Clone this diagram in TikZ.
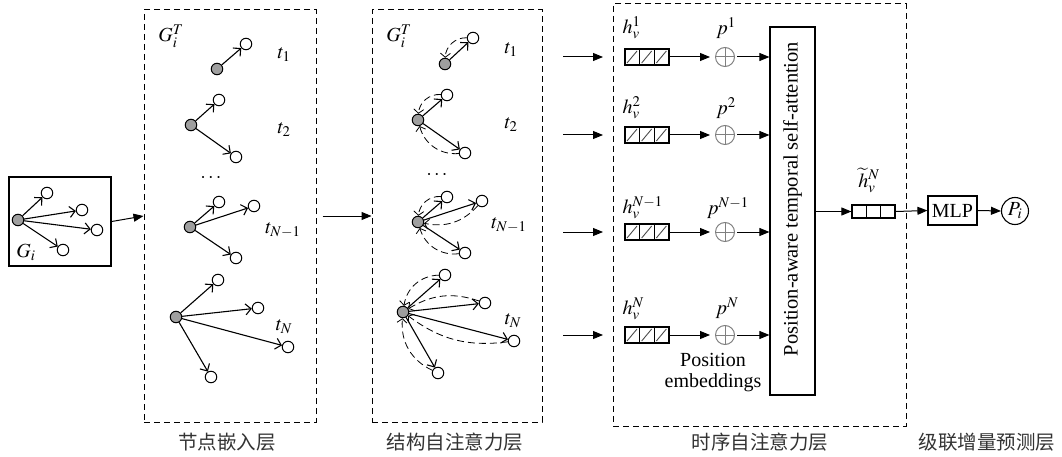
\documentclass[tikz,border=0pt]{standalone}
\usepackage{mathptmx}
\usepackage{fontspec}
\setmainfont{Liberation Serif}
\newfontfamily\cjk{Noto Sans CJK SC}
\usetikzlibrary{arrows.meta,calc}
\begin{document}
\begin{tikzpicture}[x=1pt,y=1pt,
  gn/.style={circle,draw,fill=gray!75,inner sep=0pt,minimum size=11.5pt,line width=1pt},
  wn/.style={circle,draw,fill=white,inner sep=0pt,minimum size=11.5pt,line width=1pt},
  ed/.style={-{Straight Barb[length=5.5pt,width=11pt]},line width=1.1pt},
  att/.style={-{Straight Barb[length=4pt,width=10pt]},line width=0.8pt,dash pattern=on 7pt off 4pt},
  flow/.style={-{Triangle[length=10pt,width=8pt]},line width=1pt},
  dbox/.style={draw,line width=1pt,dash pattern=on 6pt off 4pt,inner sep=0pt},
  lab/.style={font=\fontsize{20}{22}\selectfont},
  cn/.style={font=\cjk\fontsize{19.5}{22}\selectfont,text=black!80},
  cellbox/.style={draw,line width=1.2pt,minimum width=44pt,minimum height=16pt,inner sep=0pt},
  opl/.style={circle,draw=gray,line width=1pt,minimum size=19pt,inner sep=0pt},
]
\useasboundingbox (0,0) rectangle (1062,-457);

% ---------- input graph G_i ----------
\node[draw,line width=1.5pt,minimum width=102pt,minimum height=89pt,inner sep=0pt] (gibox) at (60,-221.5) {};
\node[gn] (g0) at (18,-220) {};
\node[wn] (g1) at (47,-193) {};
\node[wn] (g2) at (82,-210) {};
\node[wn] (g3) at (97,-230) {};
\node[wn] (g4) at (63,-250) {};
\foreach \w in {g1,g2,g3,g4}{\draw[ed] (g0) -- (\w);}
\node[lab] (gil) at (26,-252) {$G_i$};

% ---------- box 1 ----------
\node[dbox,minimum width=172pt,minimum height=412pt] (box1) at (230,-216) {};
\draw[flow] (gibox.east) -- (box1.west);
\node[lab] (b1G) at (171,-36) {$G_i^T$};
\node[lab] (b1t1) at (284,-55) {$t_1$};
\node[lab] (b1t2) at (284,-130) {$t_2$};
\node[lab] (b1t3) at (283,-230) {$t_{N-1}$};
\node[lab] (b1t4) at (284,-327) {$t_N$};
\node[lab] (b1d) at (211,-178) {$\cdots$};

\node[gn] (a1) at (217,-69) {};
\node[wn] (a1a) at (246,-44) {};
\draw[ed] (a1) -- (a1a);

\node[gn] (a2) at (191,-125) {};
\node[wn] (a2a) at (219,-100) {};
\node[wn] (a2b) at (236,-157) {};
\draw[ed] (a2) -- (a2a);
\draw[ed] (a2) -- (a2b);

\node[gn] (a3) at (190,-227) {};
\node[wn] (a3a) at (219,-202) {};
\node[wn] (a3b) at (254,-206) {};
\node[wn] (a3c) at (236,-258) {};
\foreach \w in {a3a,a3b,a3c}{\draw[ed] (a3) -- (\w);}

\node[gn] (a4) at (176,-317) {};
\node[wn] (a4a) at (218,-280) {};
\node[wn] (a4b) at (258,-308) {};
\node[wn] (a4c) at (288,-347) {};
\node[wn] (a4d) at (211,-377) {};
\foreach \w in {a4a,a4b,a4c,a4d}{\draw[ed] (a4) -- (\w);}

\node[cn] (l1) at (227,-442) {节点嵌入层};

% ---------- box 2 ----------
\node[dbox,minimum width=170pt,minimum height=412pt] (box2) at (457,-216) {};
\path (box1.east) ++(6,0) coordinate (b1out);
\draw[flow] (b1out) -- (box2.west);
\node[lab] (b2G) at (399,-36) {$G_i^T$};
\node[lab] (b2t1) at (511,-50) {$t_1$};
\node[lab] (b2t2) at (511,-125) {$t_2$};
\node[lab] (b2t3) at (509,-225) {$t_{N-1}$};
\node[lab] (b2t4) at (513,-321) {$t_N$};
\node[lab] (b2d) at (437,-175) {$\cdots$};

\node[gn] (b1) at (445,-64) {};
\node[wn] (b1a) at (473,-38) {};
\draw[ed] (b1) -- (b1a);
\draw[att] (b1a) to[bend right=45] (b1);

\node[gn] (b2) at (418,-120) {};
\node[wn] (b2a) at (447,-95) {};
\node[wn] (b2b) at (465,-153) {};
\draw[ed] (b2) -- (b2a);
\draw[ed] (b2) -- (b2b);
\draw[att] (b2a) to[bend right=45] (b2);
\draw[att] (b2b) to[bend left=40] (b2);

\node[gn] (b3) at (418,-222) {};
\node[wn] (b3a) at (447,-197) {};
\node[wn] (b3b) at (482,-201) {};
\node[wn] (b3c) at (465,-253) {};
\foreach \w in {b3a,b3b,b3c}{\draw[ed] (b3) -- (\w);}
\draw[att] (b3a) to[bend right=45] (b3);
\draw[att] (b3b) to[bend left=30] (b3);
\draw[att] (b3c) to[bend left=40] (b3);

\node[gn] (b4) at (403,-312) {};
\node[wn] (b4a) at (445,-275) {};
\node[wn] (b4b) at (485,-303) {};
\node[wn] (b4c) at (514,-341) {};
\node[wn] (b4d) at (438,-373) {};
\foreach \w in {b4a,b4b,b4c,b4d}{\draw[ed] (b4) -- (\w);}
\draw[att] (b4a) to[bend right=40] (b4);
\draw[att] (b4b) to[bend right=25] (b4);
\draw[att] (b4c) to[bend left=22] (b4);
\draw[att] (b4d) to[bend left=35] (b4);

\node[cn] (l2) at (455,-442) {结构自注意力层};

% ---------- box 3 ----------
\node[dbox,minimum width=293pt,minimum height=422pt] (box3) at (759.5,-215) {};
\node[draw,line width=1.2pt,minimum width=45pt,minimum height=368pt,inner sep=0pt] (attn) at (792.5,-211) {};
\node[font=\fontsize{20.5}{24}\selectfont,rotate=90] (attnt) at (792.5,-199) {Position-aware temporal self-attention};

\foreach \r/\y in {1/57,2/135,3/232,4/335}{
  \coordinate (s\r) at (563,-\y);
  \coordinate (e\r) at (603,-\y);
  \draw[flow] (s\r) -- (e\r);
  \node[cellbox] (h\r) at (647,-\y) {};
  \draw[line width=1.2pt] (639.67,-\y-8) -- (639.67,-\y+8);
  \draw[line width=1.2pt] (654.33,-\y-8) -- (654.33,-\y+8);
  \foreach \k in {0,1,2}{
    \draw[line width=0.9pt,black!70] (627+14.67*\k,-\y-6) -- (637+14.67*\k,-\y+6);
  }
  \node[opl] (o\r) at (725,-\y) {};
  \draw[gray,line width=1pt] (o\r.north) -- (o\r.south);
  \draw[gray,line width=1pt] (o\r.west) -- (o\r.east);
  \draw[flow,shorten >=15pt] (h\r.east) -- (o\r.west -| o\r.center);
  \path (o\r.east) ++(2,0) coordinate (oo\r);
  \draw[flow] (oo\r) -- (attn.west |- o\r);
}
\node[lab,anchor=west] (hl1) at (619,-28) {$h_v^{1}$};
\node[lab,anchor=west] (hl2) at (619,-108) {$h_v^{2}$};
\node[lab,anchor=west] (hl3) at (619,-208) {$h_v^{N-1}$};
\node[lab,anchor=west] (hl4) at (619,-309) {$h_v^{N}$};
\node[lab] (pl1) at (726,-28) {$p^{1}$};
\node[lab] (pl2) at (726,-108) {$p^{2}$};
\node[lab] (pl3) at (728,-208) {$p^{N-1}$};
\node[lab] (pl4) at (727,-308) {$p^{N}$};
\node[font=\fontsize{20}{21}\selectfont,align=center] (pe) at (713,-373) {Position\\embeddings};

\node[cn] (l3) at (760,-442) {时序自注意力层};

% ---------- output ----------
\node[cellbox,minimum width=43pt,minimum height=13pt] (hf) at (873.5,-211.5) {};
\draw[line width=1.2pt] (866.33,-205) -- (866.33,-218);
\draw[line width=1.2pt] (880.67,-205) -- (880.67,-218);
\draw[flow] (attn.east |- hf) -- (hf.west);
\node[lab] (hfl) at (869,-180) {$\widetilde{h}_v^{N}$};
\node[draw,line width=1.2pt,minimum width=49pt,minimum height=29pt,inner sep=0pt,font=\fontsize{20}{22}\selectfont] (mlp) at (952.5,-210.5) {MLP};
\draw[flow] (hf.east) -- (mlp.west);
\node[circle,draw,line width=1.1pt,minimum size=27pt,inner sep=0pt,lab] (pi) at (1015,-211) {$P_i$};
\draw[flow] (mlp.east) -- (pi.west);

\node[cn] (l4) at (987,-442) {级联增量预测层};
\end{tikzpicture}
\end{document}
